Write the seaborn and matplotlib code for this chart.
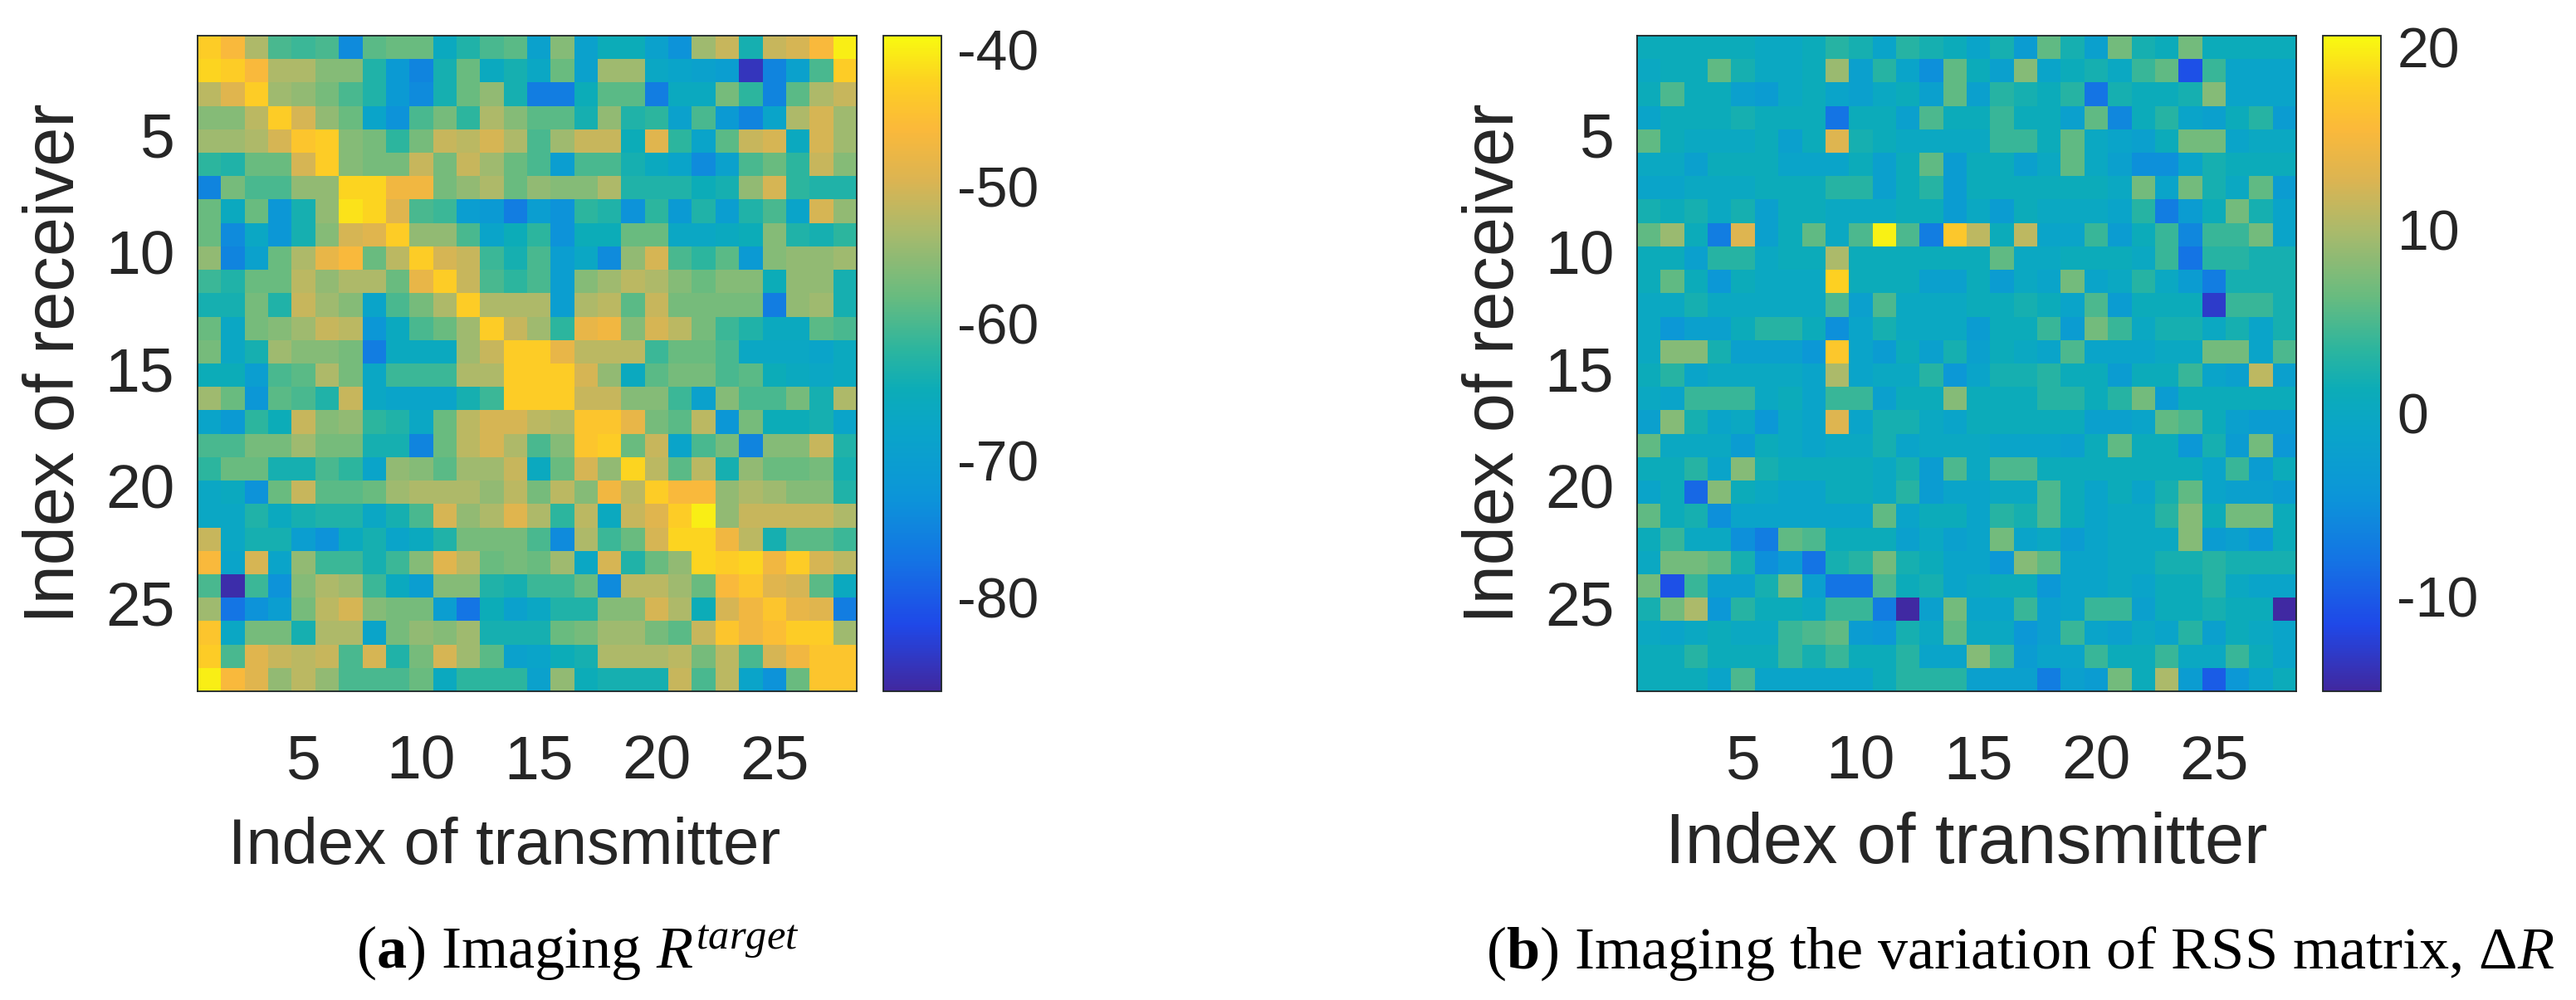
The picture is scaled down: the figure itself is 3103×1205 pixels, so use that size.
"""Two RSS matrix images (target and variation), side by side, parula-like colours."""
import matplotlib as mpl
mpl.use("Agg")
import matplotlib.pyplot as plt
import numpy as np
import seaborn as sns
from matplotlib.colors import LinearSegmentedColormap

W, H = 3103, 1205

xlabel = "Index of transmitter"
ylabel = "Index of receiver"
index_ticks = [5, 10, 15, 20, 25]

target_range = (-86.9, -39.0)
target_cbar_ticks = [-80, -70, -60, -50, -40]
target_caption = r"($\mathbf{a}$) Imaging $R^{target}$"
delta_range = (-15.2, 20.6)
delta_cbar_ticks = [-10, 0, 10, 20]
delta_caption = r"($\mathbf{b}$) Imaging the variation of RSS matrix, $\Delta R$"

rss_target = [
    [-43, -46, -53, -60, -61, -60, -74, -59, -58, -58, -66, -63, -60, -59, -69, -56, -69, -65, -65, -69, -73, -54, -51, -64, -51, -50, -46, -40],
    [-42, -43, -46, -53, -53, -56, -56, -63, -71, -75, -64, -58, -66, -64, -67, -58, -69, -54, -54, -67, -68, -69, -70, -85, -75, -69, -60, -43],
    [-52, -49, -43, -54, -55, -57, -60, -63, -71, -74, -64, -58, -55, -64, -76, -76, -65, -59, -59, -76, -66, -66, -57, -62, -75, -59, -53, -51],
    [-56, -56, -52, -43, -50, -55, -58, -68, -73, -60, -57, -62, -53, -56, -59, -59, -64, -55, -63, -62, -69, -60, -71, -75, -68, -53, -50, -54],
    [-54, -54, -53, -50, -44, -43, -56, -57, -62, -57, -51, -52, -50, -53, -60, -54, -51, -51, -65, -49, -62, -68, -59, -51, -50, -66, -50, -54],
    [-62, -63, -58, -58, -50, -43, -56, -57, -57, -51, -57, -51, -54, -58, -60, -70, -60, -60, -64, -66, -68, -74, -69, -60, -58, -62, -51, -56],
    [-75, -57, -60, -60, -55, -55, -42, -42, -47, -47, -57, -55, -53, -58, -55, -56, -56, -53, -63, -63, -63, -65, -64, -55, -50, -62, -63, -63],
    [-58, -66, -58, -72, -64, -55, -41, -42, -49, -60, -61, -70, -71, -76, -70, -73, -62, -63, -73, -62, -71, -63, -70, -63, -60, -68, -50, -55],
    [-58, -74, -67, -72, -64, -56, -50, -49, -43, -55, -55, -60, -68, -65, -62, -73, -65, -65, -58, -58, -67, -67, -66, -65, -56, -63, -64, -62],
    [-55, -75, -69, -58, -53, -48, -46, -58, -52, -43, -50, -51, -61, -64, -60, -70, -67, -74, -55, -50, -60, -62, -59, -71, -56, -55, -55, -54],
    [-61, -63, -58, -58, -52, -55, -53, -53, -58, -48, -43, -51, -60, -62, -60, -70, -56, -54, -52, -53, -56, -58, -56, -56, -65, -55, -55, -64],
    [-64, -64, -57, -63, -51, -54, -56, -68, -60, -57, -53, -43, -53, -53, -53, -70, -53, -52, -59, -51, -57, -57, -57, -57, -76, -55, -54, -64],
    [-58, -67, -57, -56, -54, -51, -52, -72, -66, -60, -58, -54, -43, -51, -54, -62, -48, -47, -56, -50, -52, -57, -61, -63, -66, -66, -59, -60],
    [-57, -67, -64, -54, -56, -56, -57, -76, -66, -66, -66, -54, -51, -43, -43, -48, -52, -52, -52, -61, -58, -58, -60, -67, -67, -67, -68, -66],
    [-65, -65, -70, -60, -59, -53, -57, -67, -61, -61, -61, -53, -53, -43, -43, -43, -50, -55, -66, -59, -57, -57, -60, -59, -65, -66, -67, -66],
    [-54, -58, -72, -59, -60, -63, -51, -67, -68, -68, -68, -64, -61, -43, -43, -43, -51, -51, -56, -56, -61, -69, -56, -60, -60, -57, -64, -53],
    [-68, -71, -62, -65, -51, -56, -55, -62, -63, -67, -58, -52, -50, -50, -52, -53, -44, -44, -48, -57, -59, -52, -72, -57, -65, -65, -64, -68],
    [-60, -60, -57, -57, -54, -57, -57, -64, -64, -75, -58, -52, -50, -53, -60, -56, -44, -43, -58, -51, -68, -60, -57, -75, -56, -56, -51, -63],
    [-62, -58, -58, -64, -64, -60, -62, -68, -55, -56, -59, -54, -54, -51, -66, -58, -50, -55, -42, -52, -59, -52, -64, -55, -58, -58, -57, -64],
    [-67, -66, -73, -58, -51, -59, -59, -58, -54, -53, -53, -53, -55, -52, -57, -52, -56, -47, -52, -43, -46, -46, -55, -53, -54, -56, -56, -63],
    [-67, -67, -63, -66, -64, -63, -63, -67, -64, -60, -50, -55, -53, -49, -53, -62, -52, -66, -51, -49, -43, -40, -55, -51, -51, -51, -51, -53],
    [-51, -67, -64, -64, -70, -73, -66, -64, -68, -66, -63, -57, -57, -57, -60, -74, -53, -61, -58, -50, -42, -42, -47, -52, -64, -59, -59, -61],
    [-46, -68, -50, -68, -55, -61, -61, -64, -61, -56, -49, -52, -58, -57, -58, -54, -67, -50, -63, -58, -55, -42, -43, -42, -47, -43, -50, -52],
    [-60, -86, -61, -73, -56, -53, -54, -61, -66, -70, -56, -56, -63, -64, -61, -61, -58, -74, -52, -52, -54, -58, -46, -44, -49, -50, -59, -66],
    [-54, -77, -73, -70, -57, -52, -50, -56, -57, -57, -70, -77, -65, -69, -67, -63, -63, -56, -56, -50, -53, -65, -50, -47, -44, -48, -49, -76],
    [-44, -67, -57, -57, -64, -53, -53, -68, -57, -55, -56, -54, -64, -64, -64, -58, -57, -54, -54, -57, -59, -51, -44, -47, -45, -43, -43, -54],
    [-43, -60, -49, -51, -52, -51, -60, -50, -63, -57, -50, -54, -59, -69, -68, -65, -64, -53, -53, -53, -52, -57, -52, -60, -50, -47, -44, -44],
    [-40, -46, -49, -55, -52, -55, -60, -60, -60, -58, -66, -62, -62, -62, -69, -55, -65, -64, -64, -64, -51, -60, -52, -68, -73, -58, -44, -44],
]

rss_delta = [
    [1, 1, 1, 1, 1, 0, 0, 1, 3, 2, -1, 3, 2, 1, -1, 2, -3, 6, 2, -2, 7, 2, 1, 7, 1, 1, 1, 1],
    [0, 1, 1, 6, 2, 0, 0, 1, 9, -2, 3, -1, -5, 6, 1, -2, 8, -1, 1, 2, 0, 4, 6, -11, 4, -1, -1, -1],
    [1, 5, 1, 1, -2, -3, 0, 1, -1, -2, 0, 1, -2, 6, -2, 3, 2, 1, 3, -8, 2, 1, 1, 2, 8, -1, -1, -1],
    [-1, 1, 1, 1, 2, 1, 1, 1, -8, 1, 1, -2, 5, 1, 1, 4, 1, 1, -2, 6, -6, 1, 3, -1, -2, 1, 3, -3],
    [6, 1, 0, 0, 0, 1, -2, 1, 13, 2, 1, 0, 0, 0, 0, 4, 4, 1, 6, 0, -1, -2, 1, 7, 7, -1, 0, 0],
    [0, 0, -2, 1, 1, 1, -1, -1, -1, 1, -2, 1, 6, -3, 1, 1, -2, 0, 6, 0, -2, -5, -5, -1, 2, 1, 1, 1],
    [-1, -1, 0, 0, 0, 1, 1, 1, 3, 3, -2, 1, 3, -3, 1, 1, 1, 1, 1, 1, 0, 7, -1, 7, 2, 0, 6, -3],
    [2, 1, 2, 0, 2, -2, 1, 1, 0, 0, 0, 1, 1, -3, 0, -3, 1, 0, 0, 0, -1, 3, -7, -3, 1, 7, 2, -1],
    [6, 9, 1, -7, 13, -2, 1, 6, 0, 5, 20, 5, -7, 17, 11, 1, 11, -1, -1, 4, -3, 1, 4, -6, 4, 4, 7, -1],
    [1, 1, -2, 3, 3, 0, 1, 1, 10, 1, 1, 1, 1, 1, 1, 6, 0, 0, 1, 1, 1, 0, 4, -8, 3, 3, 2, 2],
    [1, 6, 1, -4, 1, 0, 0, 0, 18, 1, 1, 1, -2, -2, 1, -3, 0, -1, 7, -1, 0, 3, 0, -3, -7, 2, 2, 2],
    [0, 0, 2, 0, 0, 0, 0, 0, 5, -2, 5, 0, 0, 0, 1, 1, 2, 1, -1, 5, -3, 1, 1, 1, -13, 4, 4, 2],
    [0, -4, -2, -2, 1, 3, 3, 1, -5, -1, 2, 0, 0, 0, -3, 1, 1, 4, -3, 7, 4, 0, 2, 2, 0, 2, -1, 2],
    [0, 8, 8, 2, -2, -2, -2, -4, 17, -1, -3, 1, -2, 2, -2, 1, 0, -1, 5, -1, -1, -1, 0, 0, 7, 7, -1, 5],
    [1, 3, -1, 0, 0, 0, 0, -1, 10, -1, 0, 0, 3, -4, -1, 2, 2, 3, 1, 1, -3, 1, 1, 4, -1, -2, 11, -2],
    [0, -1, 4, 4, 4, 0, 1, -1, 4, 4, -2, 1, 1, 8, 1, 1, 1, 3, 3, 1, 3, 7, -3, 1, 1, 1, 1, 1],
    [-2, 8, 2, -1, 0, -4, 0, -1, 13, -1, 2, 2, 0, -1, 1, 1, 1, 1, 1, -2, -2, -1, 6, 5, 1, -2, -3, -3],
    [6, 0, 0, 0, -3, 1, 0, -1, 0, 0, 2, -1, 0, 0, 0, -1, -1, -1, -2, 1, 6, 1, 1, -4, 2, -3, 7, -4],
    [1, 1, 3, -1, 8, 2, 1, 1, 1, 1, 0, 2, -3, 5, 0, 5, 5, 1, 1, 1, 1, 1, 1, 1, -1, 4, -3, 1],
    [-1, 1, -9, 8, 1, 0, -1, -1, 1, 1, 0, 3, -3, -1, -1, 0, 0, 5, 1, -1, 1, -1, 2, 6, -1, -2, -2, -3],
    [6, 1, 2, -5, -1, -1, -1, -1, -1, -1, 6, -1, 1, 1, -1, 3, 2, 5, 1, -1, 0, 0, 3, 8, 1, 7, 7, 1],
    [1, 4, 0, 0, -5, -7, 6, 5, 1, 1, 1, -2, 0, -2, -1, 7, -1, 0, -3, -1, 0, 0, 0, 8, -3, -2, -4, 1],
    [0, 7, 7, 6, 2, -5, -3, -8, 2, 3, 7, 2, 1, -1, -1, -4, 8, 6, -1, -1, 0, 0, 2, 2, 3, 2, 2, 2],
    [7, -11, 4, -2, -2, 2, 7, -2, -8, -8, 5, 1, 2, -1, 0, 1, 1, -4, -1, -1, 0, -1, 1, 1, 3, 0, -1, -1],
    [2, 7, 10, -4, 3, 1, 1, 0, 4, 4, -7, -15, -2, 7, -1, -1, 4, -2, -1, 4, 4, -2, 1, 1, 2, 1, 1, -15],
    [0, -1, 0, 1, 0, 0, 4, 5, 6, -3, -4, 2, 0, 6, 0, 0, -4, -2, 4, -1, -2, 0, -1, 3, -2, 1, 0, -1],
    [1, 1, 3, 1, 1, 1, 4, 2, 4, 1, 1, 3, -1, -1, 8, 4, -3, -1, -1, 4, 1, 1, 4, 0, 0, 4, 1, -1],
    [1, 1, 1, -1, 5, -1, -1, -1, -1, -1, 1, 3, 3, 3, -2, -2, -2, -7, -2, -3, 7, 1, 10, -3, -10, -4, -1, 1],
]

# colours picked off the reference colour bars, a bit duller than real parula
PARULA_LIKE = LinearSegmentedColormap.from_list("parula_like", [
    (0.00, "#41289f"),
    (0.10, "#1f48e8"),
    (0.20, "#1474e4"),
    (0.30, "#0c96d8"),
    (0.40, "#0aa5c8"),
    (0.46, "#0cacb8"),
    (0.52, "#2bb59f"),
    (0.60, "#66bb80"),
    (0.70, "#a8ba6c"),
    (0.78, "#dbb452"),
    (0.86, "#fbb93a"),
    (0.93, "#fdd022"),
    (1.00, "#f8fa10"),
])

DARK = "#1c2426"


def draw_panel(fig, box, cbar_box, data, value_range, cbar_ticks, caption, caption_xy,
               xlabel_size, xlabel_pad, xlabel_x):
    ax = fig.add_axes([box[0] / W, 1 - box[3] / H, (box[2] - box[0]) / W, (box[3] - box[1]) / H])
    cax = fig.add_axes([cbar_box[0] / W, 1 - cbar_box[3] / H,
                        (cbar_box[2] - cbar_box[0]) / W, (cbar_box[3] - cbar_box[1]) / H])
    sns.heatmap(np.asarray(data, dtype=float), ax=ax, cbar_ax=cax, cmap=PARULA_LIKE,
                vmin=value_range[0], vmax=value_range[1], square=False)

    ax.set_xticks([t - 0.5 for t in index_ticks], labels=index_ticks, rotation=0)
    ax.set_yticks([t - 0.5 for t in index_ticks], labels=index_ticks, rotation=0)
    ax.tick_params(axis="both", direction="in", length=6, width=1.1, color=DARK,
                   top=True, right=True, bottom=True, left=True,
                   labelsize=54, labelcolor="#262626")
    ax.tick_params(axis="x", pad=37)
    ax.tick_params(axis="y", pad=20)
    ax.set_xlabel(xlabel, fontsize=xlabel_size, color="#262626", labelpad=xlabel_pad, x=xlabel_x)
    ax.set_ylabel(ylabel, fontsize=61, color="#262626", labelpad=14)
    for spine in ax.spines.values():
        spine.set_visible(True)
        spine.set_linewidth(1.3)
        spine.set_color(DARK)

    cb = ax.collections[0].colorbar
    cb.set_ticks(cbar_ticks, labels=[str(t) for t in cbar_ticks])
    cb.ax.tick_params(direction="in", length=6, width=1.1, color=DARK, right=True,
                      labelsize=49, labelcolor="#262626", pad=14)
    cb.outline.set_visible(True)
    cb.outline.set_linewidth(1.3)
    cb.outline.set_edgecolor(DARK)

    fig.text(caption_xy[0] / W, 1 - caption_xy[1] / H, caption, fontsize=52,
             family="Liberation Serif", color="black", ha="left", va="baseline")


def main():
    sns.set_theme(style="white")
    mpl.rcParams.update({
        "font.family": ["Liberation Sans", "DejaVu Sans"],
        "axes.unicode_minus": False,
        "mathtext.fontset": "custom",
        "mathtext.rm": "Liberation Serif",
        "mathtext.it": "Liberation Serif:italic",
        "mathtext.bf": "Liberation Serif:bold",
        "mathtext.fallback": "stix",
    })

    fig = plt.figure(figsize=(W / 100, H / 100), dpi=100, facecolor="white")
    draw_panel(fig, (238, 43, 1032, 833), (1064, 43, 1134, 833), rss_target,
               target_range, target_cbar_ticks, target_caption, (429, 1167), 56, 22, 0.465)
    draw_panel(fig, (1972, 43, 2766, 833), (2798, 43, 2868, 833), rss_delta,
               delta_range, delta_cbar_ticks, delta_caption, (1790, 1167), 61, 18, 0.5)
    fig.savefig("out.png", dpi=100)
    plt.close(fig)


if __name__ == "__main__":
    main()
